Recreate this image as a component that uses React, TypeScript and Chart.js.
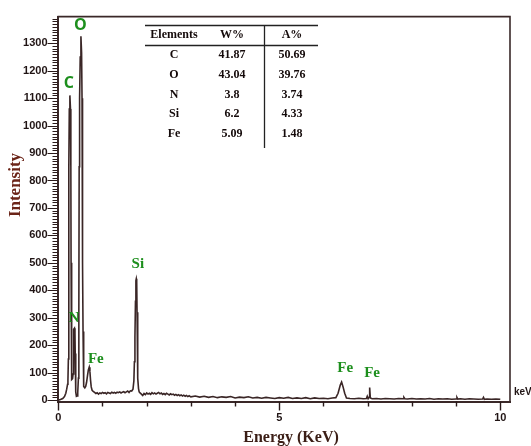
import React, { useEffect, useRef } from 'react';
import { Chart, registerables } from 'chart.js';

Chart.register(...registerables);

// ---- Spectrum data (energy in keV, intensity in counts) ----
const energyKeV = [
  0.0, 0.05, 0.1, 0.14, 0.17, 0.19, 0.21,
  0.218, 0.228, 0.235, 0.241, 0.249, 0.262, 0.276, 0.284, 0.289, 0.295, 0.302, 0.31, 0.322,
  0.335, 0.342, 0.348, 0.355, 0.366, 0.377, 0.383, 0.39, 0.399, 0.41, 0.425,
  0.44, 0.455, 0.465, 0.472, 0.482, 0.496, 0.512, 0.527, 0.537, 0.545, 0.552, 0.56, 0.569, 0.58,
  0.6, 0.62, 0.64, 0.66, 0.68, 0.7, 0.715, 0.73, 0.745, 0.765, 0.79,
  0.82, 0.85, 0.88, 0.91, 0.94, 0.97, 1.0, 1.03, 1.06, 1.09, 1.12, 1.15, 1.18, 1.21, 1.24,
  1.27, 1.3, 1.33, 1.36, 1.39, 1.42, 1.45, 1.48, 1.51, 1.54, 1.57, 1.6, 1.63, 1.66, 1.69,
  1.71, 1.722, 1.734, 1.746, 1.756, 1.765, 1.774, 1.782, 1.792, 1.802, 1.815, 1.83, 1.85,
  1.88, 1.91, 1.94, 1.97, 2.0, 2.03, 2.06, 2.09, 2.12, 2.15, 2.18, 2.21, 2.24, 2.27, 2.3,
  2.33, 2.36, 2.39, 2.42, 2.45, 2.48, 2.51, 2.54, 2.57, 2.6, 2.63, 2.66, 2.69, 2.72, 2.75,
  2.78, 2.81, 2.84, 2.87, 2.9, 2.93, 2.96, 3.0,
  3.1, 3.2, 3.3, 3.4, 3.5, 3.6, 3.7, 3.8, 3.9, 4.0, 4.1, 4.2, 4.3, 4.4, 4.5, 4.6, 4.7, 4.8,
  4.9, 5.0, 5.1, 5.2, 5.3, 5.4, 5.5, 5.6, 5.7, 5.8, 5.9, 6.0, 6.1, 6.2, 6.28,
  6.33, 6.38, 6.41, 6.44, 6.48, 6.52,
  6.6, 6.7, 6.8, 6.9, 6.97, 6.99, 7.01, 7.03, 7.045, 7.06, 7.1,
  7.2, 7.3, 7.4, 7.5, 7.6, 7.7, 7.8, 7.82, 7.84, 7.9, 8.0, 8.1, 8.2, 8.3, 8.4, 8.5, 8.6,
  8.7, 8.8, 8.9, 9.0, 9.02, 9.04, 9.1, 9.2, 9.3, 9.4, 9.5, 9.6, 9.62, 9.64, 9.7, 9.8, 9.9, 10.0,
];

const counts = [
  0, 2, 6, 13, 25, 40, 58,
  70, 150, 500, 850, 1060, 1110, 1060, 850, 500, 200, 95, 75, 78,
  95, 160, 240, 258, 262, 245, 170, 80, 30, 14, 15,
  28, 80, 330, 850, 1100, 1250, 1325, 1265, 1100, 860, 500, 250, 110, 50,
  45, 50, 65, 88, 110, 120, 105, 72, 48, 36, 32,
  28, 24, 27, 22, 26, 24, 28, 25, 27, 23, 28, 26, 24, 29, 26,
  28, 25, 29, 27, 30, 26, 29, 31, 27, 30, 33, 28, 34, 33, 40,
  70, 140, 230, 360, 435, 442, 432, 320, 160, 80, 42, 30, 26,
  22, 17, 24, 20, 26, 22, 25, 21, 27, 23, 26, 22, 25, 28, 23,
  26, 21, 24, 20, 25, 22, 19, 23, 20, 22, 18, 21, 17, 20, 16,
  19, 15, 18, 14, 17, 13, 16, 12,
  15, 11, 14, 10, 13, 9, 12, 10, 13, 8, 11, 9, 12, 8, 10, 7, 10, 8,
  6, 9, 7, 10, 6, 8, 6, 9, 5, 8, 6, 7, 5, 8, 9,
  25, 55, 66, 50, 25, 8,
  6, 5, 7, 5, 6, 14, 5, 10, 46, 8, 5,
  6, 4, 6, 5, 4, 6, 5, 10, 5, 4, 6, 4, 5, 4, 6, 3, 5,
  4, 5, 3, 4, 10, 4, 5, 3, 5, 4, 3, 4, 10, 3, 4, 3, 4, 3,
];

// ---- Axis ticks ----
const yTickValues = [0, 100, 200, 300, 400, 500, 600, 700, 800, 900, 1000, 1100, 1200, 1300];
const xTickValues = [0, 5, 10];
const xMinorTickValues = [0, 1, 2, 3, 4, 5, 6, 7, 8, 9, 10];

// ---- Peak annotations (keV, counts) ----
const peakLabels = ['C', 'O', 'N', 'Fe', 'Si', 'Fe', 'Fe'];
const peakLabelKeV = [0.24, 0.5, 0.355, 0.85, 1.8, 6.49, 7.1];
const peakLabelCounts = [1153, 1364, 298, 151, 495, 115, 100];

// ---- Composition table ----
const tableHeaders = ['Elements', 'W%', 'A%'];
const tableElements = ['C', 'O', 'N', 'Si', 'Fe'];
const tableWeightPct = ['41.87', '43.04', '3.8', '6.2', '5.09'];
const tableAtomicPct = ['50.69', '39.76', '3.74', '4.33', '1.48'];

const AXIS = '#3a2828';
const LINE = '#3a2626';
const GREEN = '#1d8f1d';
const TICKTXT = '#201414';
const SERIF = "'Liberation Serif', 'Times New Roman', serif";
const NARROW = "'Liberation Sans Narrow', 'Liberation Sans', Arial, sans-serif";

const overlay = {
  id: 'overlay',
  afterDraw(chart: any) {
    const { ctx, chartArea: a, scales } = chart;
    const xs = scales.x;
    const ys = scales.y;
    ctx.save();

    // frame top + right
    ctx.strokeStyle = AXIS;
    ctx.lineWidth = 1.6;
    ctx.beginPath();
    ctx.moveTo(a.left, a.top);
    ctx.lineTo(a.right, a.top);
    ctx.lineTo(a.right, a.bottom);
    ctx.stroke();

    // y ticks: major every 100, minor every 10
    ctx.strokeStyle = '#2a1a1a';
    ctx.lineWidth = 1.2;
    ctx.beginPath();
    for (let v = 0; v <= 1390; v += 10) {
      const y = Math.round(ys.getPixelForValue(v)) + 0.5;
      const len = v % 100 === 0 ? 10 : 5;
      ctx.moveTo(a.left - len, y);
      ctx.lineTo(a.left, y);
    }
    ctx.stroke();

    // x ticks
    ctx.lineWidth = 1.4;
    ctx.beginPath();
    xMinorTickValues.forEach((v) => {
      const x = Math.round(xs.getPixelForValue(v)) + 0.5;
      const len = v % 5 === 0 ? 9 : 5;
      ctx.moveTo(x, a.bottom);
      ctx.lineTo(x, a.bottom + len);
    });
    ctx.stroke();

    // axis titles
    ctx.fillStyle = '#6b2418';
    ctx.font = `bold 17px ${SERIF}`;
    ctx.textAlign = 'center';
    ctx.textBaseline = 'middle';
    ctx.save();
    ctx.translate(16, 185);
    ctx.rotate(-Math.PI / 2);
    ctx.fillText('Intensity', 0, 0);
    ctx.restore();

    ctx.fillStyle = '#3b1e16';
    ctx.font = `bold 16px ${SERIF}`;
    ctx.textBaseline = 'alphabetic';
    ctx.fillText('Energy (KeV)', 291, 442);

    ctx.fillStyle = TICKTXT;
    ctx.font = `bold 10px ${NARROW}`;
    ctx.textAlign = 'left';
    ctx.textBaseline = 'middle';
    ctx.fillText('keV', 514, 392);

    // peak labels
    ctx.fillStyle = GREEN;
    ctx.textAlign = 'center';
    peakLabels.forEach((t, i) => {
      ctx.font = i < 2 ? "bold 16px 'Open Sans', 'Noto Sans', sans-serif" : `bold 15px ${SERIF}`;
      ctx.fillText(t, xs.getPixelForValue(peakLabelKeV[i]), ys.getPixelForValue(peakLabelCounts[i]));
    });

    // table
    ctx.strokeStyle = '#222';
    ctx.lineWidth = 1.3;
    ctx.beginPath();
    ctx.moveTo(145, 25.5);
    ctx.lineTo(318, 25.5);
    ctx.moveTo(145, 45.5);
    ctx.lineTo(318, 45.5);
    ctx.moveTo(264.5, 25.5);
    ctx.lineTo(264.5, 148);
    ctx.stroke();

    const colX = [174, 232, 292];
    const rowY = [55, 74.5, 94.5, 114, 134];
    ctx.fillStyle = '#140a0a';
    ctx.font = `bold 12px ${SERIF}`;
    ctx.textBaseline = 'middle';
    tableHeaders.forEach((h, i) => ctx.fillText(h, colX[i], 35));
    tableElements.forEach((el, r) => {
      ctx.fillText(el, colX[0], rowY[r]);
      ctx.fillText(tableWeightPct[r], colX[1], rowY[r]);
      ctx.fillText(tableAtomicPct[r], colX[2], rowY[r]);
    });

    ctx.restore();
  },
};

export default function App() {
  const ref = useRef<HTMLCanvasElement | null>(null);

  useEffect(() => {
    if (!ref.current) return;
    const tickFont = { family: NARROW, weight: 'bold' as const, size: 11 };
    const chart = new Chart(ref.current, {
      type: 'line',
      data: {
        datasets: [
          {
            data: energyKeV.map((x, i) => ({ x, y: counts[i] })),
            borderColor: LINE,
            borderWidth: 1.6,
            pointRadius: 0,
            tension: 0,
            fill: false,
          },
        ],
      },
      options: {
        animation: false,
        responsive: false,
        maintainAspectRatio: false,
        events: [],
        layout: { padding: { top: 11, right: 21, left: 0, bottom: 0 } },
        plugins: { legend: { display: false }, tooltip: { enabled: false } },
        scales: {
          x: {
            type: 'linear',
            min: -0.018,
            max: 10.22,
            afterBuildTicks: (s: any) => {
              s.ticks = xTickValues.map((v) => ({ value: v }));
            },
            afterFit: (s: any) => {
              s.height = 44.5;
            },
            grid: { display: false, drawTicks: false },
            border: { display: true, color: AXIS, width: 2 },
            ticks: {
              padding: 10,
              color: TICKTXT,
              font: tickFont,
              maxRotation: 0,
              autoSkip: false,
              callback: (v: any) => String(v),
            },
          },
          y: {
            type: 'linear',
            min: -5,
            max: 1397,
            afterBuildTicks: (s: any) => {
              s.ticks = yTickValues.map((v) => ({ value: v }));
            },
            afterFit: (s: any) => {
              s.width = 57.5;
            },
            grid: { display: false, drawTicks: false },
            border: { display: true, color: AXIS, width: 2 },
            ticks: {
              padding: 10,
              color: TICKTXT,
              font: tickFont,
              autoSkip: false,
              callback: (v: any) => String(v),
            },
          },
        },
      },
      plugins: [overlay],
    });
    return () => chart.destroy();
  }, []);

  return (
    <div style={{ position: 'fixed', left: 0, top: 0, width: 531, height: 446, background: '#fff' }}>
      <canvas ref={ref} width={531} height={446} style={{ width: 531, height: 446, display: 'block' }} />
    </div>
  );
}
